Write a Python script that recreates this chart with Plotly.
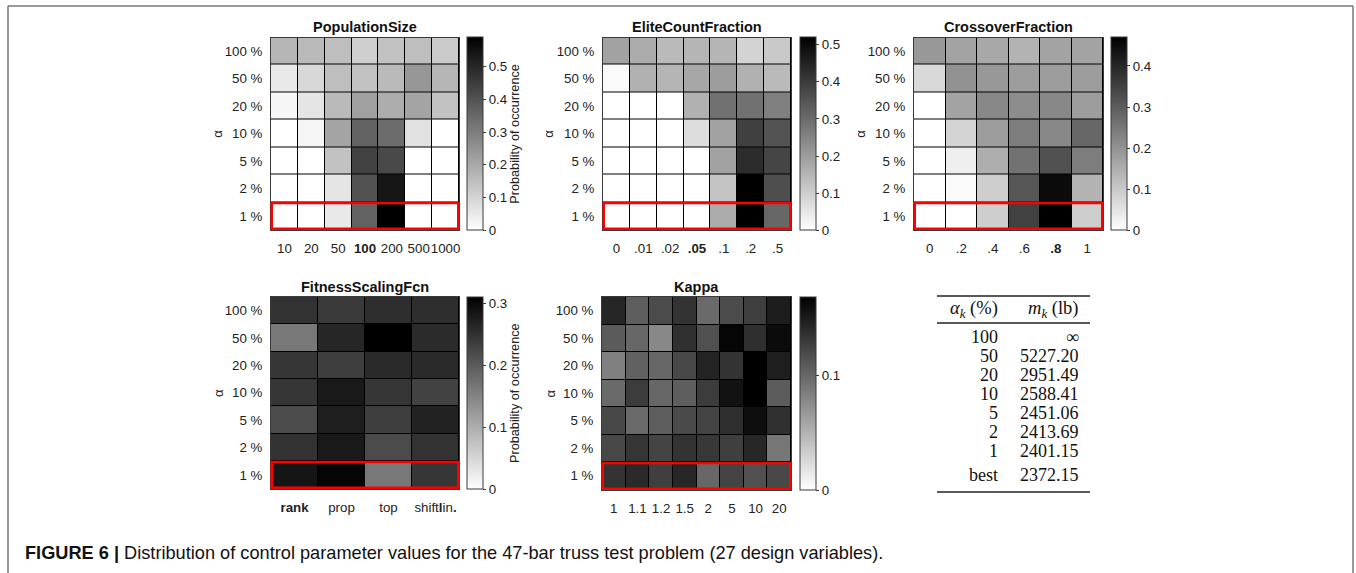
import plotly.graph_objects as go

W, H = 1356, 573

# ---------------- data ----------------
alphas = ['100 %', '50 %', '20 %', '10 %', '5 %', '2 %', '1 %']

pop_labels = ['10', '20', '50', '100', '200', '500', '1000']
pop_best = '100'
pop_vals = [
    [0.17, 0.16, 0.15, 0.11, 0.14, 0.15, 0.12],
    [0.05, 0.09, 0.15, 0.14, 0.16, 0.24, 0.17],
    [0.02, 0.06, 0.16, 0.22, 0.19, 0.21, 0.14],
    [0.00, 0.02, 0.21, 0.36, 0.34, 0.07, 0.00],
    [0.00, 0.00, 0.14, 0.44, 0.42, 0.00, 0.00],
    [0.00, 0.00, 0.06, 0.40, 0.54, 0.00, 0.00],
    [0.00, 0.00, 0.05, 0.36, 0.59, 0.00, 0.00],
]

elite_labels = ['0', '.01', '.02', '.05', '.1', '.2', '.5']
elite_best = '.05'
elite_vals = [
    [0.19, 0.17, 0.14, 0.15, 0.15, 0.09, 0.11],
    [0.01, 0.16, 0.15, 0.18, 0.20, 0.16, 0.14],
    [0.00, 0.00, 0.00, 0.16, 0.29, 0.29, 0.26],
    [0.00, 0.00, 0.00, 0.07, 0.19, 0.39, 0.35],
    [0.00, 0.00, 0.00, 0.00, 0.19, 0.43, 0.38],
    [0.00, 0.00, 0.00, 0.00, 0.12, 0.52, 0.36],
    [0.00, 0.00, 0.00, 0.00, 0.17, 0.52, 0.31],
]

cross_labels = ['0', '.2', '.4', '.6', '.8', '1']
cross_best = '.8'
cross_vals = [
    [0.19, 0.17, 0.16, 0.14, 0.17, 0.17],
    [0.07, 0.20, 0.19, 0.18, 0.18, 0.18],
    [0.00, 0.17, 0.22, 0.21, 0.22, 0.18],
    [0.00, 0.08, 0.18, 0.24, 0.22, 0.28],
    [0.00, 0.03, 0.15, 0.26, 0.32, 0.24],
    [0.00, 0.01, 0.09, 0.31, 0.45, 0.14],
    [0.00, 0.00, 0.09, 0.35, 0.47, 0.09],
]

fit_labels = ['rank', 'prop', 'top', 'shiftlin.']
fit_ticktext = ['<b>rank</b>', 'prop', 'top', 'shift<b>l</b>in<b>.</b>']
fit_vals = [
    [0.250, 0.240, 0.255, 0.255],
    [0.165, 0.265, 0.311, 0.259],
    [0.245, 0.235, 0.260, 0.260],
    [0.245, 0.280, 0.245, 0.230],
    [0.220, 0.275, 0.235, 0.270],
    [0.250, 0.280, 0.220, 0.250],
    [0.285, 0.305, 0.165, 0.245],
]

kappa_labels = ['1', '1.1', '1.2', '1.5', '2', '5', '10', '20']
kappa_vals = [
    [0.144, 0.107, 0.119, 0.135, 0.099, 0.119, 0.127, 0.150],
    [0.109, 0.101, 0.079, 0.137, 0.116, 0.166, 0.138, 0.162],
    [0.084, 0.105, 0.101, 0.121, 0.146, 0.135, 0.169, 0.149],
    [0.099, 0.129, 0.101, 0.107, 0.129, 0.157, 0.169, 0.108],
    [0.121, 0.099, 0.107, 0.120, 0.124, 0.138, 0.160, 0.137],
    [0.121, 0.133, 0.124, 0.135, 0.132, 0.127, 0.143, 0.090],
    [0.135, 0.141, 0.127, 0.143, 0.101, 0.124, 0.116, 0.121],
]

table_alpha = ['100', '50', '20', '10', '5', '2', '1', 'best']
table_mass = ['∞', '5227.20', '2951.49', '2588.41', '2451.06', '2413.69', '2401.15', '2372.15']

highlight_row = '1 %'
caption_bold = 'FIGURE 6 |'
caption_text = ' Distribution of control parameter values for the 47-bar truss test problem (27 design variables).'


def bold_ticks(labels, best):
    return ['<b>%s</b>' % l if l == best else l for l in labels]


panels = [
    dict(title='PopulationSize', labels=pop_labels, ticktext=bold_ticks(pop_labels, pop_best), z=pop_vals,
         box=(271, 459, 37.5, 230), cbx=467, alx=218, cbtitle=True),
    dict(title='EliteCountFraction', labels=elite_labels, ticktext=bold_ticks(elite_labels, elite_best), z=elite_vals,
         box=(603, 791, 37.5, 230), cbx=800, alx=549, cbtitle=False),
    dict(title='CrossoverFraction', labels=cross_labels, ticktext=bold_ticks(cross_labels, cross_best), z=cross_vals,
         box=(914, 1103, 37.5, 230), cbx=1111, alx=861, cbtitle=False),
    dict(title='FitnessScalingFcn', labels=fit_labels, ticktext=fit_ticktext, z=fit_vals,
         box=(271, 459, 297, 489), cbx=467, alx=218, cbtitle=True),
    dict(title='Kappa', labels=kappa_labels, ticktext=kappa_labels, z=kappa_vals,
         box=(602, 791, 297, 490), cbx=800, alx=550, cbtitle=False),
]


def px(x):
    return x / W


def py(y):
    return 1 - y / H


fig = go.Figure()
annotations = []
shapes = []
FONT = 'Liberation Sans, Arial, Helvetica, sans-serif'
SERIF = 'Liberation Serif, Times New Roman, serif'
AX = '#3a3a3a'
TS = 13.3

for i, p in enumerate(panels, start=1):
    x0, x1, y0, y1 = p['box']
    xa = 'x' if i == 1 else 'x%d' % i
    ya = 'y' if i == 1 else 'y%d' % i
    zmax = max(max(r) for r in p['z'])
    fig.add_trace(go.Heatmap(
        x=p['labels'], y=alphas, z=p['z'], xaxis=xa, yaxis=ya,
        zmin=0, zmax=zmax, colorscale=[[0, '#ffffff'], [1, '#000000']],
        xgap=1, ygap=1, hoverongaps=False,
        colorbar=dict(x=px(p['cbx']), xanchor='left', xpad=0,
                      y=py((y0 + y1) / 2), yanchor='middle', ypad=0,
                      len=(y1 - y0), lenmode='pixels', thickness=16, thicknessmode='pixels',
                      outlinewidth=1, outlinecolor=AX, tick0=0, dtick=0.1,
                      ticks='outside', ticklen=3, tickcolor=AX,
                      tickfont=dict(family=FONT, size=TS, color='#222')),
    ))
    xk = 'xaxis' if i == 1 else 'xaxis%d' % i
    yk = 'yaxis' if i == 1 else 'yaxis%d' % i
    fig.layout[xk] = dict(domain=[px(x0), px(x1)], anchor=ya, type='category',
                          categoryorder='array', categoryarray=p['labels'],
                          tickvals=p['labels'], ticktext=p['ticktext'], tickangle=0,
                          showline=True, mirror=True, linecolor=AX, linewidth=1,
                          showgrid=False, zeroline=False, ticks='outside', ticklen=6,
                          tickcolor='rgba(0,0,0,0)', tickfont=dict(family=FONT, size=TS, color='#222'),
                          fixedrange=True)
    fig.layout[yk] = dict(domain=[py(y1), py(y0)], anchor=xa, type='category',
                          categoryorder='array', categoryarray=alphas, autorange='reversed',
                          showline=True, mirror=True, linecolor=AX, linewidth=1,
                          showgrid=False, zeroline=False, ticks='outside', ticklen=5,
                          tickcolor='rgba(0,0,0,0)', tickfont=dict(family=FONT, size=TS, color='#222'),
                          fixedrange=True)
    # highlight row
    ridx = alphas.index(highlight_row)
    shapes.append(dict(type='rect', xref=xa + ' domain', yref=ya, x0=0.004, x1=0.996,
                       y0=ridx - 0.47, y1=ridx + 0.47, line=dict(color='#ff0000', width=2.5)))
    # title
    annotations.append(dict(text='<b>%s</b>' % p['title'], x=px((x0 + x1) / 2), y=py(y0 - 10),
                            xref='paper', yref='paper', showarrow=False, xanchor='center',
                            yanchor='middle', font=dict(family=FONT, size=14.5, color='#111')))
    # alpha label
    annotations.append(dict(text='α', x=px(p['alx']), y=py((y0 + y1) / 2), xref='paper', yref='paper',
                            showarrow=False, textangle=-90, xanchor='center', yanchor='middle',
                            font=dict(family=FONT, size=13, color='#222')))
    if p['cbtitle']:
        annotations.append(dict(text='Probability of occurrence', x=px(515), y=py((y0 + y1) / 2),
                                xref='paper', yref='paper', showarrow=False, textangle=-90,
                                xanchor='center', yanchor='middle',
                                font=dict(family=FONT, size=12.7, color='#222')))

# ---------------- table ----------------
tx_l, tx_r = 937, 1090
for yy in (296, 323, 492):
    shapes.append(dict(type='line', xref='paper', yref='paper', x0=px(tx_l), x1=px(tx_r),
                       y0=py(yy), y1=py(yy), line=dict(color='#222', width=1.3)))
annotations.append(dict(text='<i>α</i><sub><i>k</i></sub> (%)', x=px(1000), y=py(309), xref='paper',
                        yref='paper', showarrow=False, xanchor='right', yanchor='middle',
                        font=dict(family=SERIF, size=18.5, color='#111')))
annotations.append(dict(text='<i>m</i><sub><i>k</i></sub> (lb)', x=px(1080), y=py(309), xref='paper',
                        yref='paper', showarrow=False, xanchor='right', yanchor='middle',
                        font=dict(family=SERIF, size=18.5, color='#111')))
for k, (a, m) in enumerate(zip(table_alpha, table_mass)):
    yy = 337 + 19 * k if a != 'best' else 475
    annotations.append(dict(text=a, x=px(1000), y=py(yy), xref='paper', yref='paper', showarrow=False,
                            xanchor='right', yanchor='middle', font=dict(family=SERIF, size=18, color='#111')))
    annotations.append(dict(text=m, x=px(1081), y=py(yy), xref='paper', yref='paper', showarrow=False,
                            xanchor='right', yanchor='middle', font=dict(family=SERIF, size=18, color='#111')))

# ---------------- caption & frame ----------------
annotations.append(dict(text='<b>%s</b>%s' % (caption_bold, caption_text), x=px(23), y=py(553),
                        xref='paper', yref='paper', showarrow=False, xanchor='left', yanchor='middle',
                        font=dict(family='Liberation Sans, Arial', size=18.2, color='#111')))
frame = '#777777'
shapes.append(dict(type='line', xref='paper', yref='paper', x0=px(8), x1=px(1353), y0=py(6), y1=py(6),
                   line=dict(color=frame, width=1.5)))
shapes.append(dict(type='line', xref='paper', yref='paper', x0=px(8), x1=px(8), y0=py(6), y1=0,
                   line=dict(color=frame, width=1.5)))
shapes.append(dict(type='line', xref='paper', yref='paper', x0=px(1353), x1=px(1353), y0=py(6), y1=0,
                   line=dict(color=frame, width=1.5)))

fig.update_layout(width=W, height=H, margin=dict(l=0, r=0, t=0, b=0), paper_bgcolor='white',
                  plot_bgcolor='black', showlegend=False, annotations=annotations, shapes=shapes,
                  font=dict(family=FONT, size=13, color='#222'))

fig.write_html('out.html', config={'displayModeBar': False},
               post_script="document.body.style.margin='0';document.body.style.padding='0';"
                           "document.documentElement.style.overflow='hidden';")
